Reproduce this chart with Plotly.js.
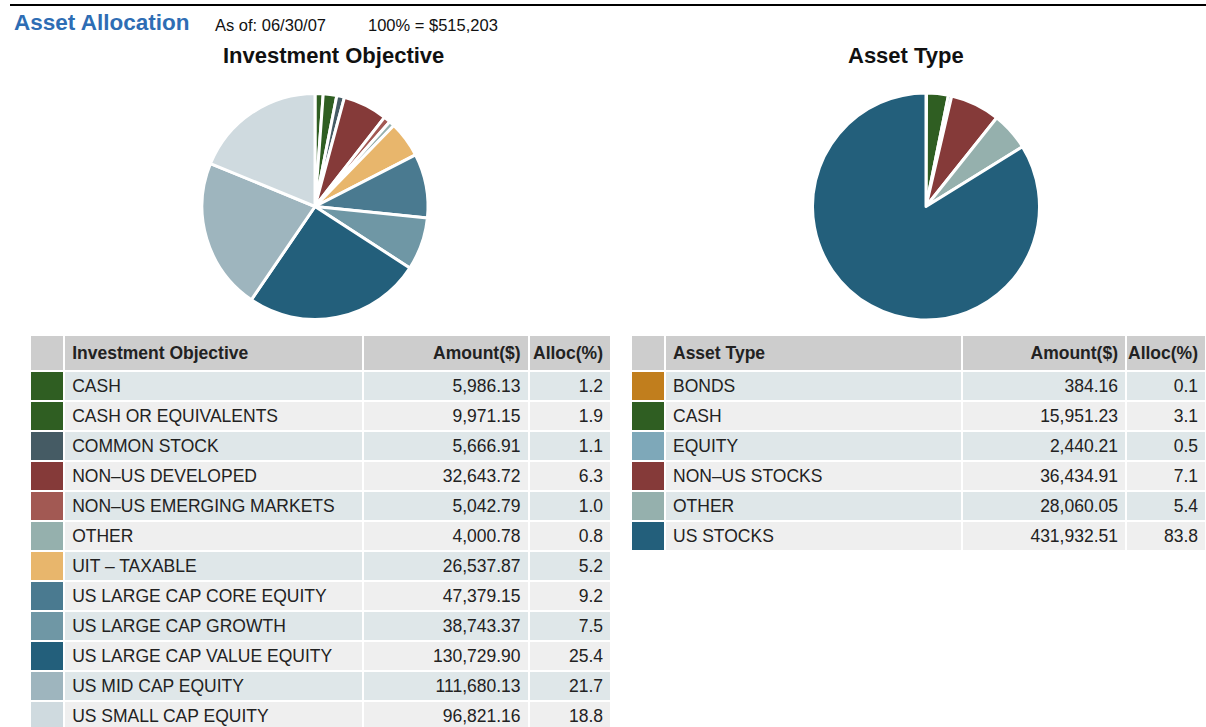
<!DOCTYPE html>
<html>
<head>
<meta charset="utf-8">
<script src="https://cdn.plot.ly/plotly-3.0.1.min.js"></script>
<style>html,body{margin:0;padding:0;background:#fff;}#chart{width:1206px;height:727px;}</style>
</head>
<body>
<div id="chart"></div>
<script>
// ---- Data ----
const objCategories = ["CASH","CASH OR EQUIVALENTS","COMMON STOCK","NON\u2013US DEVELOPED","NON\u2013US EMERGING MARKETS","OTHER","UIT \u2013 TAXABLE","US LARGE CAP CORE EQUITY","US LARGE CAP GROWTH","US LARGE CAP VALUE EQUITY","US MID CAP EQUITY","US SMALL CAP EQUITY"];
const objAmounts = [5986.13, 9971.15, 5666.91, 32643.72, 5042.79, 4000.78, 26537.87, 47379.15, 38743.37, 130729.90, 111680.13, 96821.16];
const objAlloc = ["1.2","1.9","1.1","6.3","1.0","0.8","5.2","9.2","7.5","25.4","21.7","18.8"];
const objColors = ["#2f5e22","#2f5e22","#455b64","#853a39","#a25953","#95b0ad","#e8b66c","#4a7a90","#6f97a5","#235f7b","#9eb5be","#cfdadf"];

const typeCategories = ["BONDS","CASH","EQUITY","NON\u2013US STOCKS","OTHER","US STOCKS"];
const typeAmounts = [384.16, 15951.23, 2440.21, 36434.91, 28060.05, 431932.51];
const typeAlloc = ["0.1","3.1","0.5","7.1","5.4","83.8"];
const typeColors = ["#c17e1d","#2f5e22","#7ea8b9","#853a39","#95b0ad","#235f7b"];

const W = 1206, H = 727;
const px = v => v / W;
const py = v => 1 - v / H;
const fmt = v => v.toLocaleString('en-US', {minimumFractionDigits: 2, maximumFractionDigits: 2});
const rowFill = n => Array.from({length: n}, (_, i) => i % 2 === 0 ? "#dfe7e9" : "#efefef");
const FONT = "Liberation Sans, Arial, sans-serif";
const TFS = 17.5;

function pie(labels, values, colors, x0, x1, y0, y1) {
  return {
    type: 'pie', labels: labels, values: values, sort: false, direction: 'clockwise', rotation: 0,
    marker: {colors: colors, line: {color: '#ffffff', width: 3}},
    textinfo: 'none', hoverinfo: 'label+percent', showlegend: false,
    domain: {x: [px(x0), px(x1)], y: [py(y1), py(y0)]}
  };
}

function table(title, cats, amounts, allocs, colors, x0, x1, y0, y1, widths) {
  const n = cats.length;
  const rf = rowFill(n);
  return {
    type: 'table',
    columnwidth: widths,
    domain: {x: [px(x0), px(x1)], y: [py(y1), py(y0)]},
    header: {
      values: ["", "<b>" + title + "</b>", "<b>Amount($)</b>", "<b>Alloc(%)</b>"],
      align: ['left', 'left', 'right', 'right'],
      fill: {color: "#cdcdcd"},
      line: {color: "#ffffff", width: 2},
      font: {family: FONT, size: TFS, color: "#222"},
      height: 29
    },
    cells: {
      values: [cats.map(() => ""), cats, amounts.map(fmt), allocs],
      align: ['left', 'left', 'right', 'right'],
      fill: {color: [colors, rf, rf, rf]},
      line: {color: "#ffffff", width: 2},
      font: {family: FONT, size: TFS, color: "#222"},
      height: 30
    }
  };
}

const data = [
  pie(objCategories, objAmounts, objColors, 202, 428, 93, 320),
  pie(typeCategories, typeAmounts, typeColors, 812, 1040, 93, 320),
  table("Investment Objective", objCategories, objAmounts, objAlloc, objColors, 30, 611, 335, 727, [34, 297, 165, 82]),
  table("Asset Type", typeCategories, typeAmounts, typeAlloc, typeColors, 631, 1206, 335, 560, [34, 297, 164, 80])
];

const layout = {
  width: W, height: H,
  margin: {l: 0, r: 0, t: 0, b: 0},
  paper_bgcolor: '#ffffff',
  font: {family: FONT},
  showlegend: false,
  shapes: [
    {type: 'line', xref: 'paper', yref: 'paper', x0: px(10), x1: 1, y0: py(5), y1: py(5), line: {color: '#000', width: 2}}
  ],
  annotations: [
    {text: "<b>Asset Allocation</b>", xref: 'paper', yref: 'paper', x: px(12), y: py(22), xanchor: 'left', yanchor: 'middle', showarrow: false, font: {family: FONT, size: 22.5, color: '#2e6db4'}},
    {text: "As of: 06/30/07", xref: 'paper', yref: 'paper', x: px(213), y: py(25), xanchor: 'left', yanchor: 'middle', showarrow: false, font: {family: FONT, size: 16.5, color: '#111'}},
    {text: "100% = $515,203", xref: 'paper', yref: 'paper', x: px(366), y: py(25), xanchor: 'left', yanchor: 'middle', showarrow: false, font: {family: FONT, size: 16.5, color: '#111'}},
    {text: "<b>Investment Objective</b>", xref: 'paper', yref: 'paper', x: px(333), y: py(56), xanchor: 'center', yanchor: 'middle', showarrow: false, font: {family: FONT, size: 22, color: '#111'}},
    {text: "<b>Asset Type</b>", xref: 'paper', yref: 'paper', x: px(906), y: py(56), xanchor: 'center', yanchor: 'middle', showarrow: false, font: {family: FONT, size: 22, color: '#111'}}
  ]
};

Plotly.newPlot('chart', data, layout, {displayModeBar: false});
</script>
</body>
</html>
